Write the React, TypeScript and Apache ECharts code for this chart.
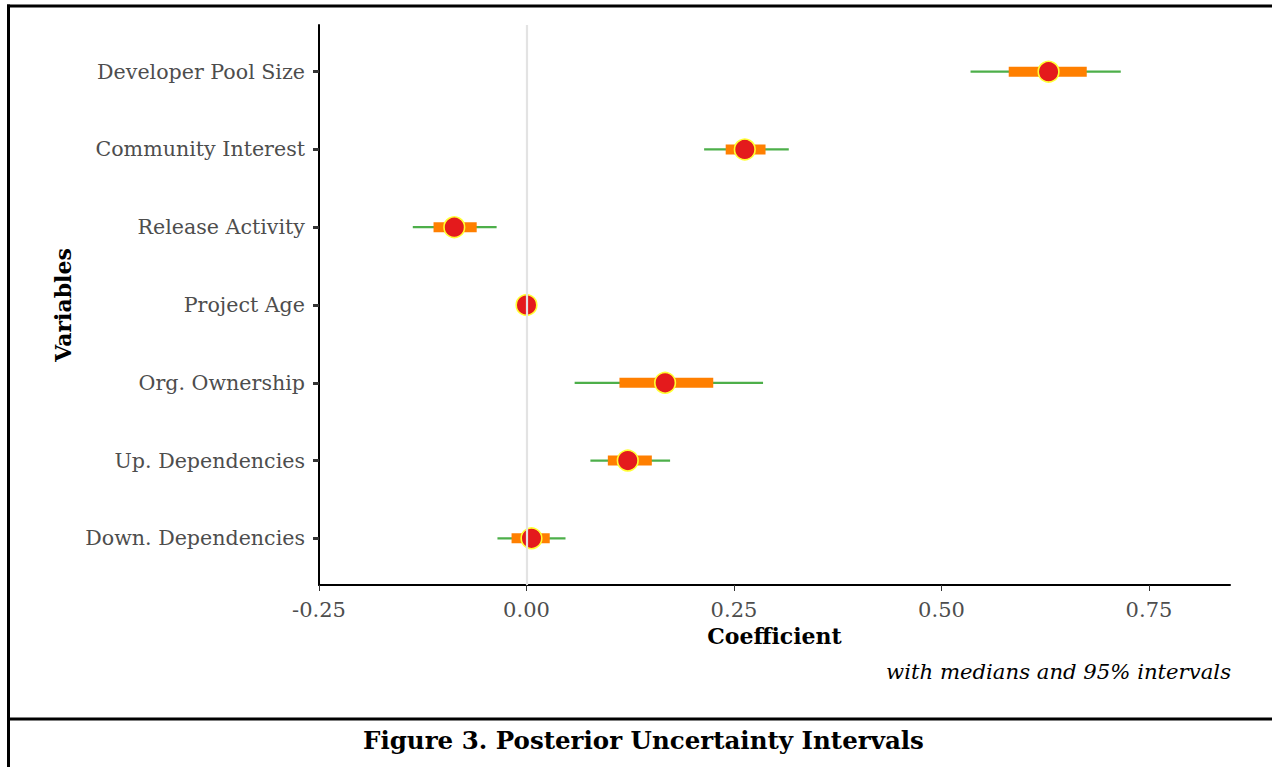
import React, { useEffect, useRef } from "react";
import * as echarts from "echarts";

const variables = [
  "Developer Pool Size",
  "Community Interest",
  "Release Activity",
  "Project Age",
  "Org. Ownership",
  "Up. Dependencies",
  "Down. Dependencies",
];
const medians = [0.629, 0.263, -0.087, 0.0, 0.167, 0.122, 0.006];
const outerLow = [0.535, 0.214, -0.137, -0.002, 0.058, 0.077, -0.035];
const outerHigh = [0.716, 0.316, -0.036, 0.002, 0.285, 0.173, 0.047];
const innerLow = [0.581, 0.24, -0.112, -0.001, 0.112, 0.098, -0.018];
const innerHigh = [0.675, 0.288, -0.06, 0.001, 0.225, 0.151, 0.028];
const xTicks = [-0.25, 0, 0.25, 0.5, 0.75];

const FONT = "DejaVu Serif";

export default function App() {
  const ref = useRef<HTMLDivElement>(null);
  useEffect(() => {
    const chart = echarts.init(ref.current!, null, { renderer: "svg" });
    const data = variables.map((_, i) => [
      outerLow[i],
      outerHigh[i],
      innerLow[i],
      innerHigh[i],
      medians[i],
      i,
    ]);
    chart.setOption({
      animation: false,
      backgroundColor: "#fff",
      textStyle: { fontFamily: FONT },
      title: [
        {
          text: "with medians and 95% intervals",
          right: 36,
          top: 656,
          textStyle: {
            fontFamily: FONT,
            fontStyle: "italic",
            fontWeight: "normal",
            fontSize: 21.2,
            color: "#000",
          },
        },
        {
          text: "Figure 3. Posterior Uncertainty Intervals",
          left: 358,
          top: 723,
          textStyle: {
            fontFamily: FONT,
            fontWeight: "bold",
            fontSize: 24.5,
            color: "#000",
          },
        },
      ],
      grid: { left: 319, right: 42, top: 25, height: 560 },
      xAxis: {
        type: "value",
        min: -0.25,
        max: 0.8476,
        interval: 0.25,
        name: "Coefficient",
        nameLocation: "middle",
        nameGap: 38,
        nameTextStyle: {
          fontFamily: FONT,
          fontWeight: "bold",
          fontSize: 22,
          color: "#000",
        },
        axisLine: { show: true, onZero: false, lineStyle: { color: "#000", width: 2 } },
        axisTick: {
          show: true,
          length: 6,
          lineStyle: { color: "#333", width: 1 },
          customValues: xTicks,
        },
        axisLabel: {
          margin: 14,
          fontSize: 21,
          color: "#4d4d4d",
          fontFamily: FONT,
          formatter: (v: number) => v.toFixed(2),
          customValues: xTicks,
        },
        splitLine: { show: false },
      },
      yAxis: {
        type: "value",
        inverse: true,
        min: -0.6,
        max: 6.6,
        name: "Variables",
        nameLocation: "middle",
        nameRotate: 90,
        nameGap: 245,
        nameTextStyle: {
          fontFamily: FONT,
          fontWeight: "bold",
          fontSize: 22,
          color: "#000",
        },
        axisLine: { show: true, onZero: false, lineStyle: { color: "#000", width: 2 } },
        axisTick: {
          show: true,
          length: 6,
          lineStyle: { color: "#333", width: 3 },
          customValues: variables.map((_, i) => i),
        },
        axisLabel: {
          margin: 14,
          fontSize: 20.6,
          color: "#4d4d4d",
          fontFamily: FONT,
          customValues: variables.map((_, i) => i),
          formatter: (v: number) => variables[Math.round(v)] ?? "",
        },
        splitLine: { show: false },
      },
      graphic: [
        {
          type: "line",
          shape: { x1: 8.5, y1: 4.5, x2: 8.5, y2: 767 },
          style: { stroke: "#000", lineWidth: 3 },
        },
        {
          type: "line",
          shape: { x1: 7, y1: 6, x2: 1272, y2: 6 },
          style: { stroke: "#000", lineWidth: 3 },
        },
        {
          type: "line",
          shape: { x1: 7, y1: 719, x2: 1272, y2: 719 },
          style: { stroke: "#000", lineWidth: 3 },
        },
      ],
      series: [
        {
          type: "scatter",
          data: [],
          z: 1,
          silent: true,
          markLine: {
            silent: true,
            symbol: "none",
            label: { show: false },
            lineStyle: { color: "#e3e3e3", width: 2.2, type: "solid" },
            data: [{ xAxis: 0 }],
          },
        },
        {
          type: "custom",
          z: 3,
          data,
          encode: { x: [0, 1, 2, 3, 4], y: 5 },
          renderItem: (params: any, api: any) => {
            const y = api.value(5);
            const o1 = api.coord([api.value(0), y]);
            const o2 = api.coord([api.value(1), y]);
            const i1 = api.coord([api.value(2), y]);
            const i2 = api.coord([api.value(3), y]);
            const m = api.coord([api.value(4), y]);
            return {
              type: "group",
              children: [
                {
                  type: "line",
                  shape: { x1: o1[0], y1: o1[1], x2: o2[0], y2: o2[1] },
                  style: { stroke: "#4DAF4A", lineWidth: 2.2 },
                },
                {
                  type: "rect",
                  shape: { x: i1[0], y: i1[1] - 5, width: i2[0] - i1[0], height: 10 },
                  style: { fill: "#FF7F00" },
                },
                {
                  type: "circle",
                  shape: { cx: m[0], cy: m[1], r: 10.3 },
                  style: { fill: "#E41A1C", stroke: "#FFFF33", lineWidth: 1.6 },
                },
              ],
            };
          },
        },
      ],
    });
    return () => chart.dispose();
  }, []);
  return (
    <div
      ref={ref}
      style={{ position: "fixed", left: 0, top: 0, width: 1272, height: 767 }}
    />
  );
}
